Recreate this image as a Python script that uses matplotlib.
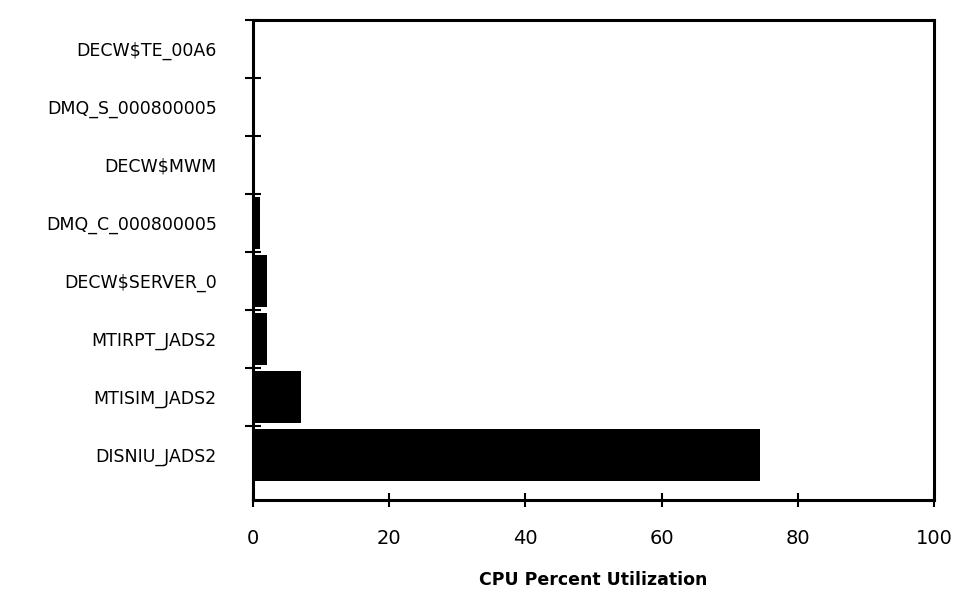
import matplotlib
matplotlib.use("Agg")
import matplotlib.pyplot as plt
import numpy as np

categories = ["DISNIU_JADS2", "MTISIM_JADS2", "MTIRPT_JADS2", "DECW$SERVER_0",
              "DMQ_C_000800005", "DECW$MWM", "DMQ_S_000800005", "DECW$TE_00A6"]
values = [74.5, 7.0, 2.1, 2.1, 1.0, 0.0, 0.0, 0.0]
xticks = [0, 20, 40, 60, 80, 100]

plt.rcParams['font.family'] = ['DejaVu Sans']

fig = plt.figure(figsize=(9.58, 5.99), dpi=100)
ax = fig.add_axes([0.264, 0.165, 0.711, 0.802])

y = np.arange(len(categories))
ax.barh(y, values, height=0.9, color='black')

ax.set_xlim(0, 100)
ax.set_ylim(-0.78, 7.5)
ax.set_yticks(y)
ax.set_yticklabels(categories, fontsize=12.5)
ax.tick_params(axis='y', which='major', length=0, pad=26)
ax.set_yticks(np.arange(len(categories)) + 0.5, minor=True)
ax.tick_params(axis='y', which='minor', direction='inout', length=12, width=1.5)

ax.set_xticks(xticks)
ax.set_xticklabels([str(t) for t in xticks], fontsize=14)
ax.tick_params(axis='x', which='major', direction='inout', length=10, width=1.5, pad=16)

for s in ax.spines.values():
    s.set_linewidth(2.2)

ax.set_xlabel("CPU Percent Utilization", fontsize=12.5, fontweight='bold', labelpad=16)

fig.savefig("out.png", dpi=100)
